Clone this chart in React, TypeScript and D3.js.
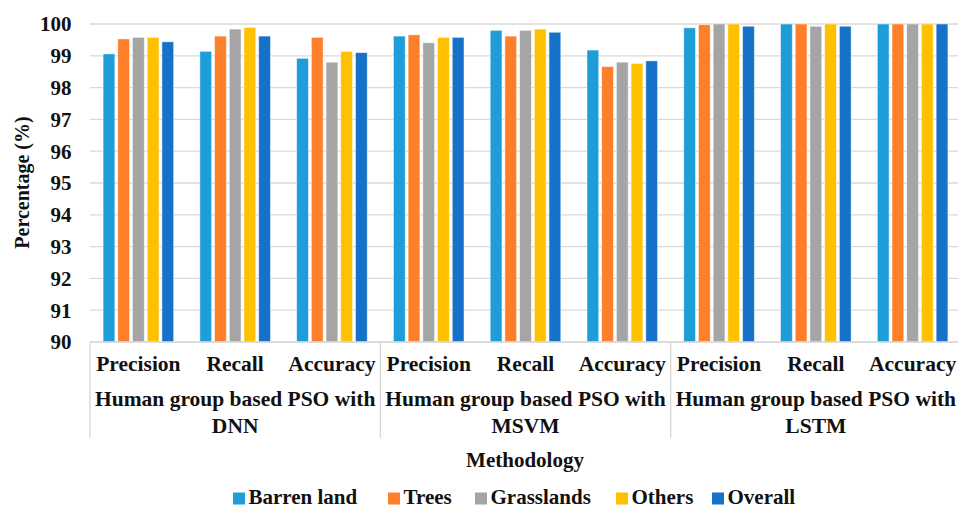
import React from "react";
import * as d3 from "d3";

// Metric categories along the x axis, grouped by methodology
const metrics = ["Precision", "Recall", "Accuracy"];
const methods = [
  ["Human group based PSO with", "DNN"],
  ["Human group based PSO with", "MSVM"],
  ["Human group based PSO with", "LSTM"],
];
const seriesNames = ["Barren land", "Trees", "Grasslands", "Others", "Overall"];
const seriesColors = ["#1E9DD9", "#FE7F2A", "#A5A5A5", "#FFC000", "#1672C8"];
const yTicks = [90, 91, 92, 93, 94, 95, 96, 97, 98, 99, 100];

// Values per category (DNN P/R/A, MSVM P/R/A, LSTM P/R/A), one array per class
const barrenLand = [99.06, 99.14, 98.92, 99.62, 99.8, 99.18, 99.88, 100, 100];
const trees = [99.53, 99.62, 99.58, 99.66, 99.62, 98.66, 99.98, 100, 100];
const grasslands = [99.58, 99.84, 98.8, 99.41, 99.8, 98.8, 100, 99.93, 100];
const others = [99.58, 99.89, 99.14, 99.58, 99.84, 98.76, 100, 100, 100];
const overall = [99.44, 99.62, 99.1, 99.58, 99.74, 98.84, 99.93, 99.93, 100];

const seriesValues = [barrenLand, trees, grasslands, others, overall];

const W = 958;
const H = 509;
const FONT = '"Liberation Serif", "Times New Roman", Tinos, "DejaVu Serif", serif';

export default function App() {
  const left = 90;
  const right = 961;
  const top = 24;
  const bottom = 342;

  const categories = methods.flatMap((_, gi) => metrics.map((m) => `${gi}-${m}`));

  const x0 = d3.scaleBand<string>().domain(categories).range([left, right]).padding(0);
  const x1 = d3
    .scaleBand<string>()
    .domain(seriesNames)
    .range([0, x0.bandwidth()])
    .paddingInner(0.2)
    .paddingOuter(0.89);
  const y = d3.scaleLinear().domain([90, 100]).range([bottom, top]);

  const groupWidth = x0.bandwidth() * metrics.length;
  const gridColor = "#D9D9D9";
  const textStyle = { fontFamily: FONT, fontWeight: 700 as const };

  // Legend entry positions
  const legendX = [233, 388, 475, 616, 712];

  return (
    <svg
      width={W}
      height={H}
      style={{ position: "absolute", left: 0, top: 0, background: "#fff", ...textStyle }}
    >
      {/* horizontal gridlines */}
      {yTicks.map((t) => (
        <line
          key={`g${t}`}
          x1={left}
          x2={right}
          y1={y(t)}
          y2={y(t)}
          stroke={gridColor}
          strokeWidth={1.3}
        />
      ))}

      {/* y tick labels */}
      {yTicks.map((t) => (
        <text
          key={`t${t}`}
          x={71.5}
          y={y(t)}
          dy="0.35em"
          textAnchor="end"
          fontSize={21}
          fill="#111"
          style={textStyle}
        >
          {t}
        </text>
      ))}

      {/* y axis title */}
      <text
        transform={`translate(29,182.5) rotate(-90)`}
        textAnchor="middle"
        fontSize={20}
        fill="#111"
        style={textStyle}
      >
        Percentage (%)
      </text>

      {/* bars */}
      {categories.map((c, ci) => (
        <g key={c} transform={`translate(${x0(c)},0)`}>
          {seriesNames.map((s, si) => {
            const v = seriesValues[si][ci];
            return (
              <rect
                key={s}
                x={x1(s)}
                y={y(v)}
                width={x1.bandwidth()}
                height={y(90) - y(v)}
                fill={seriesColors[si]}
                stroke="#ffffff"
                strokeOpacity={0.6}
                strokeWidth={0.8}
              />
            );
          })}
        </g>
      ))}

      {/* category axis line and group separators */}
      <line x1={left} x2={right} y1={bottom} y2={bottom} stroke={gridColor} strokeWidth={1.3} />
      {d3.range(methods.length + 1).map((i) => (
        <line
          key={`sep${i}`}
          x1={left + i * groupWidth}
          x2={left + i * groupWidth}
          y1={bottom}
          y2={438}
          stroke={gridColor}
          strokeWidth={1.3}
        />
      ))}

      {/* metric labels */}
      {categories.map((c, ci) => (
        <text
          key={`l${c}`}
          x={(x0(c) as number) + x0.bandwidth() / 2}
          y={371}
          textAnchor="middle"
          fontSize={21.5}
          fill="#111"
          style={textStyle}
        >
          {metrics[ci % metrics.length]}
        </text>
      ))}

      {/* methodology group labels */}
      {methods.map((lines, gi) => (
        <text
          key={`m${gi}`}
          x={left + (gi + 0.5) * groupWidth}
          textAnchor="middle"
          fontSize={21.5}
          fill="#111"
          style={textStyle}
        >
          <tspan x={left + (gi + 0.5) * groupWidth} y={406}>
            {lines[0]}
          </tspan>
          <tspan x={left + (gi + 0.5) * groupWidth} y={433}>
            {lines[1]}
          </tspan>
        </text>
      ))}

      {/* x axis title */}
      <text x={525} y={467} textAnchor="middle" fontSize={21} fill="#111" style={textStyle}>
        Methodology
      </text>

      {/* legend */}
      {seriesNames.map((s, si) => (
        <g key={`lg${s}`} transform={`translate(${legendX[si]},0)`}>
          <rect x={0} y={492.5} width={12} height={12} fill={seriesColors[si]} />
          <text x={15.5} y={504} fontSize={21} fill="#111" style={textStyle}>
            {s}
          </text>
        </g>
      ))}
    </svg>
  );
}
